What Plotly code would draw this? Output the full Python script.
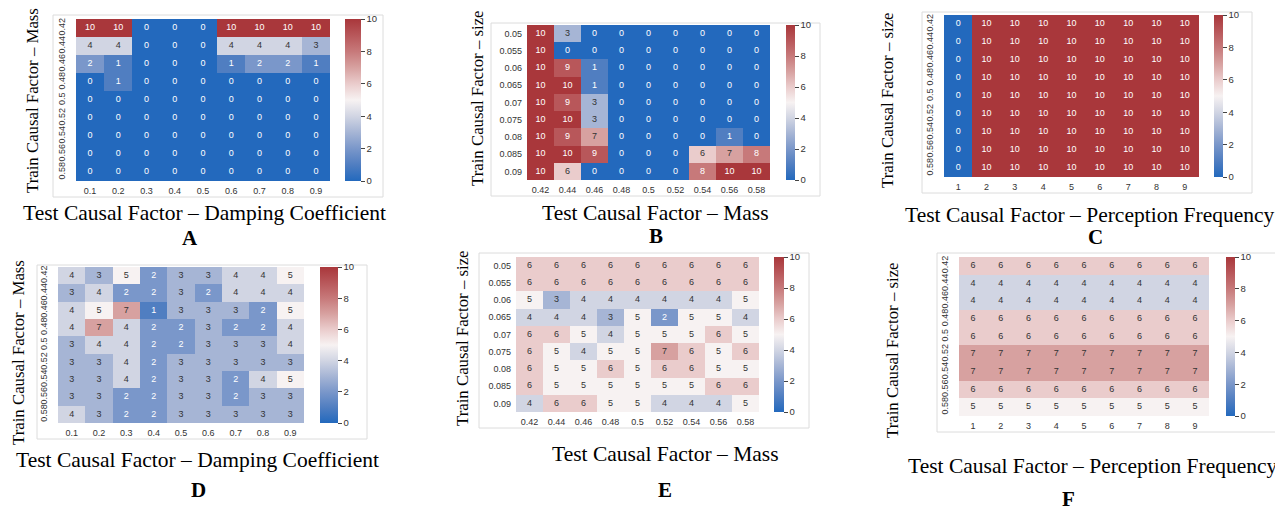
import plotly.graph_objects as go

# page body has an 8px margin: the figure is shifted by OFF on screen
OFF = 8
W, H = 1275, 502

# ---------------- data ----------------
mass_ticks = ["0.42", "0.44", "0.46", "0.48", "0.5", "0.52", "0.54", "0.56", "0.58"]
damping_ticks = ["0.1", "0.2", "0.3", "0.4", "0.5", "0.6", "0.7", "0.8", "0.9"]
size_ticks = ["0.05", "0.055", "0.06", "0.065", "0.07", "0.075", "0.08", "0.085", "0.09"]
freq_ticks = ["1", "2", "3", "4", "5", "6", "7", "8", "9"]

z_A = [
    [10, 10, 0, 0, 0, 10, 10, 10, 10],
    [4, 4, 0, 0, 0, 4, 4, 4, 3],
    [2, 1, 0, 0, 0, 1, 2, 2, 1],
    [0, 1, 0, 0, 0, 0, 0, 0, 0],
    [0, 0, 0, 0, 0, 0, 0, 0, 0],
    [0, 0, 0, 0, 0, 0, 0, 0, 0],
    [0, 0, 0, 0, 0, 0, 0, 0, 0],
    [0, 0, 0, 0, 0, 0, 0, 0, 0],
    [0, 0, 0, 0, 0, 0, 0, 0, 0],
]
z_B = [
    [10, 3, 0, 0, 0, 0, 0, 0, 0],
    [10, 0, 0, 0, 0, 0, 0, 0, 0],
    [10, 9, 1, 0, 0, 0, 0, 0, 0],
    [10, 10, 1, 0, 0, 0, 0, 0, 0],
    [10, 9, 3, 0, 0, 0, 0, 0, 0],
    [10, 10, 3, 0, 0, 0, 0, 0, 0],
    [10, 9, 7, 0, 0, 0, 0, 1, 0],
    [10, 10, 9, 0, 0, 0, 6, 7, 8],
    [10, 6, 0, 0, 0, 0, 8, 10, 10],
]
z_C = [
    [0, 10, 10, 10, 10, 10, 10, 10, 10],
    [0, 10, 10, 10, 10, 10, 10, 10, 10],
    [0, 10, 10, 10, 10, 10, 10, 10, 10],
    [0, 10, 10, 10, 10, 10, 10, 10, 10],
    [0, 10, 10, 10, 10, 10, 10, 10, 10],
    [0, 10, 10, 10, 10, 10, 10, 10, 10],
    [0, 10, 10, 10, 10, 10, 10, 10, 10],
    [0, 10, 10, 10, 10, 10, 10, 10, 10],
    [0, 10, 10, 10, 10, 10, 10, 10, 10],
]
z_D = [
    [4, 3, 5, 2, 3, 3, 4, 4, 5],
    [3, 4, 2, 2, 3, 2, 4, 4, 4],
    [4, 5, 7, 1, 3, 3, 3, 2, 5],
    [4, 7, 4, 2, 2, 3, 2, 2, 4],
    [3, 4, 4, 2, 2, 3, 3, 3, 4],
    [3, 3, 4, 2, 3, 3, 3, 3, 3],
    [3, 3, 4, 2, 3, 3, 2, 4, 5],
    [3, 3, 2, 2, 3, 3, 2, 3, 3],
    [4, 3, 2, 2, 3, 3, 3, 3, 3],
]
z_E = [
    [6, 6, 6, 6, 6, 6, 6, 6, 6],
    [6, 6, 6, 6, 6, 6, 6, 6, 6],
    [5, 3, 4, 4, 4, 4, 4, 4, 5],
    [4, 4, 4, 3, 5, 2, 5, 5, 4],
    [6, 6, 5, 4, 5, 5, 5, 6, 5],
    [6, 5, 4, 5, 5, 7, 6, 5, 6],
    [6, 5, 5, 6, 5, 6, 6, 5, 5],
    [6, 5, 5, 5, 5, 5, 5, 6, 6],
    [4, 6, 6, 5, 5, 4, 4, 4, 5],
]
z_F = [
    [6, 6, 6, 6, 6, 6, 6, 6, 6],
    [4, 4, 4, 4, 4, 4, 4, 4, 4],
    [4, 4, 4, 4, 4, 4, 4, 4, 4],
    [6, 6, 6, 6, 6, 6, 6, 6, 6],
    [6, 6, 6, 6, 6, 6, 6, 6, 6],
    [7, 7, 7, 7, 7, 7, 7, 7, 7],
    [7, 7, 7, 7, 7, 7, 7, 7, 7],
    [6, 6, 6, 6, 6, 6, 6, 6, 6],
    [5, 5, 5, 5, 5, 5, 5, 5, 5],
]

x_titles = {
    "A": "Test Causal Factor \u2013 Damping Coefficient",
    "B": "Test Causal Factor \u2013 Mass",
    "C": "Test Causal Factor \u2013 Perception Frequency",
    "D": "Test Causal Factor \u2013 Damping Coefficient",
    "E": "Test Causal Factor \u2013 Mass",
    "F": "Test Causal Factor \u2013 Perception Frequency",
}
y_titles = {
    "A": "Train Causal Factor \u2013 Mass",
    "B": "Train Causal Factor \u2013 size",
    "C": "Train Causal Factor \u2013 size",
    "D": "Train Causal Factor \u2013 Mass",
    "E": "Train Causal Factor \u2013 size",
    "F": "Train Causal Factor \u2013 size",
}

# ---------------- style ----------------
vlag = [
    [0.0, "rgb(35,105,189)"],
    [0.1, "rgb(80,126,193)"],
    [0.2, "rgb(122,151,202)"],
    [0.3, "rgb(166,181,213)"],
    [0.4, "rgb(209,213,227)"],
    [0.5, "rgb(247,242,242)"],
    [0.6, "rgb(234,204,204)"],
    [0.7, "rgb(215,161,160)"],
    [0.8, "rgb(199,121,122)"],
    [0.9, "rgb(184,87,90)"],
    [1.0, "rgb(169,55,59)"],
]
TICKFONT = dict(family="Liberation Sans, Arial, sans-serif", size=9, color="#333333")
CBFONT = dict(family="Liberation Sans, Arial, sans-serif", size=9.5, color="#333333")
SERIF = "Liberation Serif, Times New Roman, serif"

# panel geometry in screen pixels
panels = {
    "A": dict(data=(z_A, damping_ticks, mass_ticks), hm=(76, 330, 19, 181), cb=(345, 361), fr=(53, 383, 15, 197),
              yt=(32, 101), xt=(204, 213), lt=(190, 238), rot=True),
    "B": dict(data=(z_B, mass_ticks, size_ticks), hm=(527, 770, 25, 180), cb=(786, 795), fr=(491, 820, 23, 196),
              yt=(477, 98), xt=(655, 213), lt=(656, 236), rot=False),
    "C": dict(data=(z_C, freq_ticks, mass_ticks), hm=(944, 1199, 15, 177), cb=(1214, 1223), fr=(922, 1252, 12, 193),
              yt=(887, 100), xt=(1090, 215), lt=(1095, 237), rot=True),
    "D": dict(data=(z_D, damping_ticks, mass_ticks), hm=(58, 304, 267, 423), cb=(320, 338), fr=(37, 367, 265, 439),
              yt=(18, 353), xt=(197, 460), lt=(198, 490), rot=True),
    "E": dict(data=(z_E, mass_ticks, size_ticks), hm=(516, 759, 257, 412), cb=(774, 784), fr=(479, 809, 253, 428),
              yt=(462, 338), xt=(665, 454), lt=(665, 490), rot=False),
    "F": dict(data=(z_F, freq_ticks, mass_ticks), hm=(959, 1209, 257, 416), cb=(1226, 1235), fr=(937, 1277, 253, 432),
              yt=(892, 350), xt=(1093, 466), lt=(1068, 499), rot=True),
}


def px(x):
    return (x - OFF) / W


def py(y):
    return 1 - (y - OFF) / H


fig = go.Figure()
layout = dict(shapes=[], annotations=[])

for i, (key, p) in enumerate(panels.items()):
    n = i + 1
    xa = "x" if n == 1 else f"x{n}"
    ya = "y" if n == 1 else f"y{n}"
    z, xt, yt = p["data"]
    hx0, hx1, hy0, hy1 = p["hm"]
    cx0, cx1 = p["cb"]

    fig.add_trace(go.Heatmap(
        z=z, x=xt, y=yt, xaxis=xa, yaxis=ya,
        colorscale=vlag, zmin=0, zmax=10, hoverinfo="skip",
        colorbar=dict(
            x=px(cx0), xanchor="left", y=py(hy0), yanchor="top",
            len=hy1 - hy0, lenmode="pixels", thickness=cx1 - cx0, thicknessmode="pixels",
            xpad=0, ypad=0, outlinewidth=0,
            tickvals=[0, 2, 4, 6, 8, 10], ticks="outside", ticklen=4, tickwidth=1,
            tickcolor="#444444", tickfont=CBFONT,
        ),
    ))

    # annotations in cells
    xs, ys, txt, cols = [], [], [], []
    for r, row in enumerate(z):
        for c, v in enumerate(row):
            xs.append(xt[c])
            ys.append(yt[r])
            txt.append(str(v))
            cols.append("#ffffff" if (v <= 2 or v >= 8) else "#333333")
    fig.add_trace(go.Scatter(
        x=xs, y=ys, text=txt, mode="text", xaxis=xa, yaxis=ya,
        textfont=dict(family="Liberation Sans, Arial, sans-serif", size=9, color=cols),
        hoverinfo="skip", showlegend=False,
    ))

    xkey = "xaxis" if n == 1 else f"xaxis{n}"
    ykey = "yaxis" if n == 1 else f"yaxis{n}"
    layout[xkey] = dict(
        domain=[px(hx0), px(hx1)], anchor=ya, type="category", range=[-0.5, 8.5],
        showgrid=False, zeroline=False, showline=False, ticks="", tickfont=TICKFONT,
        tickangle=0, ticklabelstandoff=3, fixedrange=True,
    )
    layout[ykey] = dict(
        domain=[py(hy1), py(hy0)], anchor=xa, type="category", range=[8.5, -0.5],
        showgrid=False, zeroline=False, showline=False, ticks="", tickfont=TICKFONT,
        tickangle=-90 if p["rot"] else 0, ticklabelstandoff=8 if p["rot"] else 4,
        fixedrange=True,
    )

    fx0, fx1, fy0, fy1 = p["fr"]
    layout["shapes"].append(dict(
        type="rect", xref="paper", yref="paper", x0=px(fx0), x1=px(fx1), y0=py(fy1), y1=py(fy0),
        line=dict(color="#dcdcdc", width=1), fillcolor="rgba(0,0,0,0)", layer="below",
    ))

    ytx, yty = p["yt"]
    layout["annotations"].append(dict(
        text=y_titles[key], x=px(ytx), y=py(yty), xref="paper", yref="paper",
        xanchor="center", yanchor="middle", textangle=-90, showarrow=False,
        font=dict(family=SERIF, size=16.8, color="#000000"),
    ))
    xtx, xty = p["xt"]
    layout["annotations"].append(dict(
        text=x_titles[key], x=px(xtx), y=py(xty), xref="paper", yref="paper",
        xanchor="center", yanchor="middle", showarrow=False,
        font=dict(family=SERIF, size=21.5, color="#000000"),
    ))
    ltx, lty = p["lt"]
    layout["annotations"].append(dict(
        text=f"<b>{key}</b>", x=px(ltx), y=py(lty), xref="paper", yref="paper",
        xanchor="center", yanchor="middle", showarrow=False,
        font=dict(family=SERIF, size=21, color="#000000"),
    ))

fig.update_layout(
    width=W, height=H, margin=dict(l=0, r=0, t=0, b=0),
    paper_bgcolor="#ffffff", plot_bgcolor="#ffffff", showlegend=False,
    **layout,
)

fig.write_html("out.html", config={"displayModeBar": False})
